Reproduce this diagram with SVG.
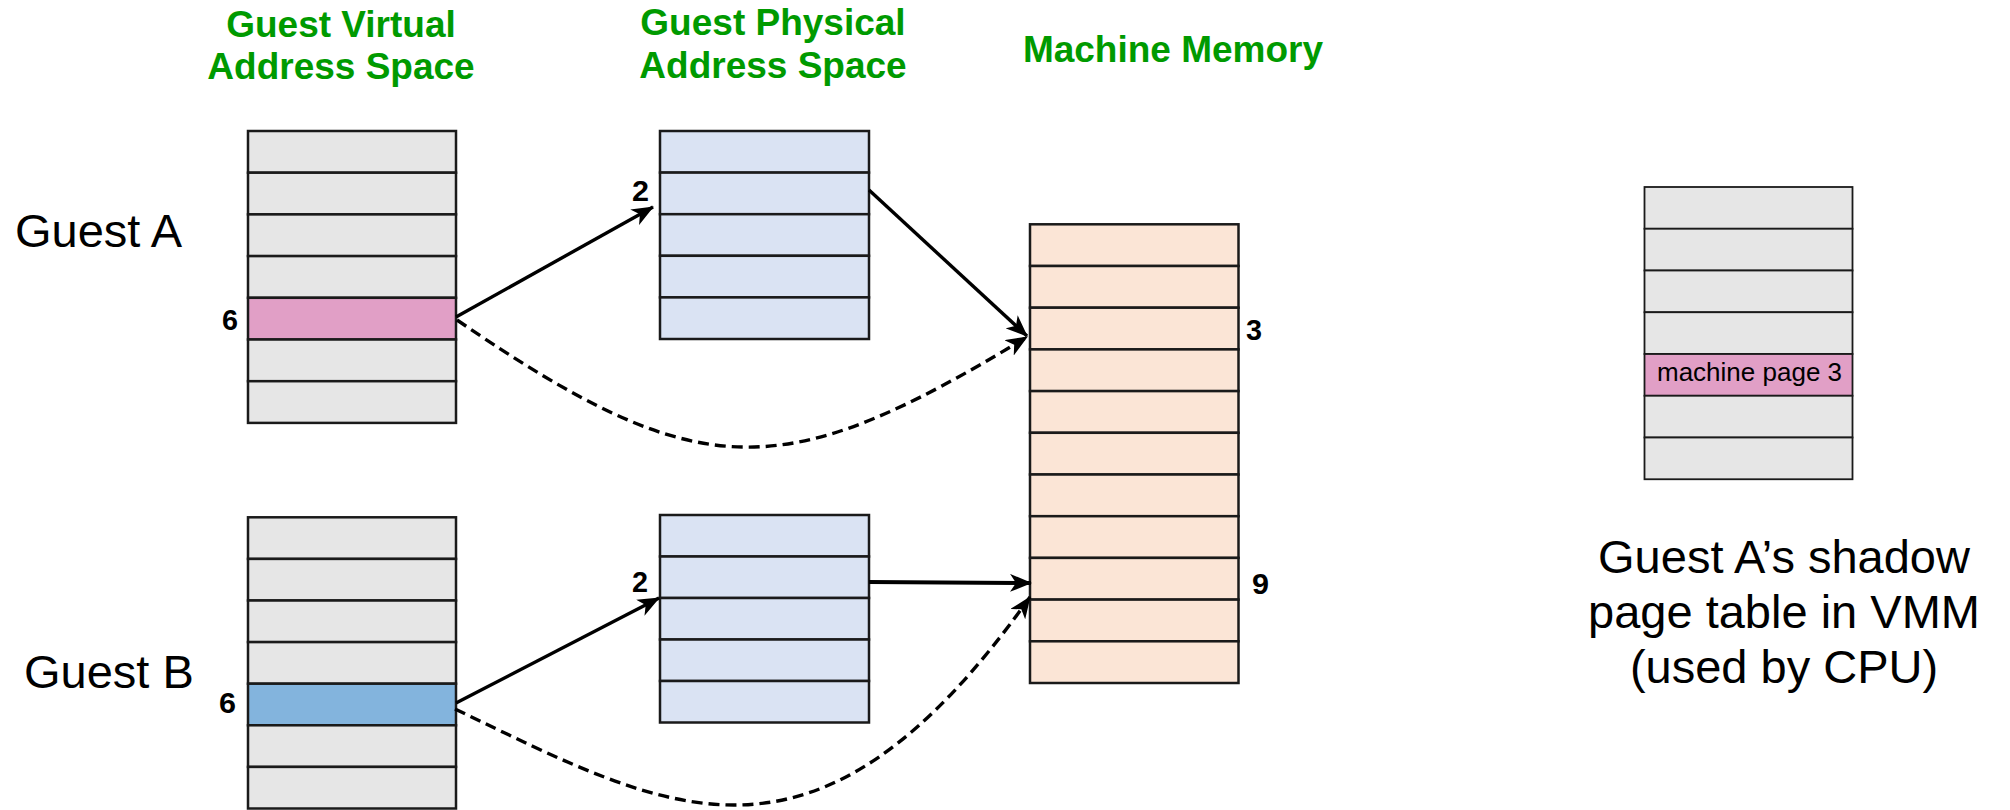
<svg xmlns="http://www.w3.org/2000/svg" width="2010" height="810" viewBox="0 0 2010 810">
  <style>
    .title { font-family: "Liberation Sans", Arial, sans-serif; font-weight: bold; font-size: 37px; fill: #009a00; text-anchor: middle; }
    .guest { font-family: "Liberation Sans", Arial, sans-serif; font-size: 47px; fill: #000; }
    .num { font-family: "Liberation Sans", Arial, sans-serif; font-weight: bold; font-size: 30px; fill: #000; }
    .caption { font-family: "Liberation Sans", Arial, sans-serif; font-size: 47px; fill: #000; text-anchor: middle; }
    .entry { font-family: "Liberation Sans", Arial, sans-serif; font-size: 26px; fill: #000; }
    .cell { stroke: #1a1a1a; stroke-width: 2.5; }
    .thin { stroke: #1a1a1a; stroke-width: 1.8; }
    .gray { fill: #e6e6e6; }
    .pink { fill: #e19fc6; }
    .blue { fill: #83b4dd; }
    .phys { fill: #dae3f3; }
    .mach { fill: #fbe5d6; }
    .edge { fill: none; stroke: #000; stroke-width: 3.4; }
    .dash { stroke-dasharray: 11 6; }
  </style>
  <defs>
    <marker id="arrow" viewBox="0 0 22 18" refX="21" refY="9" markerWidth="22" markerHeight="18" markerUnits="userSpaceOnUse" orient="auto">
      <path d="M0,0 L22,9 L0,18 L6,9 Z" fill="#000"/>
    </marker>
  </defs>

  <rect width="2010" height="810" fill="#fff"/>

  <!-- column headings -->
  <text class="title" x="341" y="37">Guest Virtual</text>
  <text class="title" x="341" y="79">Address Space</text>
  <text class="title" x="773" y="35">Guest Physical</text>
  <text class="title" x="773" y="78">Address Space</text>
  <text class="title" x="1173" y="62">Machine Memory</text>

  <!-- guest labels -->
  <text class="guest" x="15" y="247">Guest A</text>
  <text class="guest" x="24" y="688">Guest B</text>

  <!-- Guest A virtual address space: 7 pages, page 6 highlighted -->
  <g id="guestA-virtual">
    <rect class="cell gray" x="248" y="131" width="208" height="41.7"/>
    <rect class="cell gray" x="248" y="172.7" width="208" height="41.7"/>
    <rect class="cell gray" x="248" y="214.4" width="208" height="41.7"/>
    <rect class="cell gray" x="248" y="256.1" width="208" height="41.7"/>
    <rect class="cell pink" x="248" y="297.8" width="208" height="41.7"/>
    <rect class="cell gray" x="248" y="339.5" width="208" height="41.7"/>
    <rect class="cell gray" x="248" y="381.2" width="208" height="41.7"/>
    <text class="num" x="222" y="330" textLength="16" lengthAdjust="spacingAndGlyphs">6</text>
  </g>

  <!-- Guest A physical address space: 5 pages -->
  <g id="guestA-physical">
    <rect class="cell phys" x="660" y="131" width="209" height="41.6"/>
    <rect class="cell phys" x="660" y="172.6" width="209" height="41.6"/>
    <rect class="cell phys" x="660" y="214.2" width="209" height="41.6"/>
    <rect class="cell phys" x="660" y="255.8" width="209" height="41.6"/>
    <rect class="cell phys" x="660" y="297.4" width="209" height="41.6"/>
    <text class="num" x="632" y="201" textLength="17" lengthAdjust="spacingAndGlyphs">2</text>
  </g>

  <!-- Guest B virtual address space -->
  <g id="guestB-virtual">
    <rect class="cell gray" x="248" y="517.3" width="208" height="41.6"/>
    <rect class="cell gray" x="248" y="558.9" width="208" height="41.6"/>
    <rect class="cell gray" x="248" y="600.5" width="208" height="41.6"/>
    <rect class="cell gray" x="248" y="642.1" width="208" height="41.6"/>
    <rect class="cell blue" x="248" y="683.7" width="208" height="41.6"/>
    <rect class="cell gray" x="248" y="725.3" width="208" height="41.6"/>
    <rect class="cell gray" x="248" y="766.9" width="208" height="41.6"/>
    <text class="num" x="219" y="713" textLength="17" lengthAdjust="spacingAndGlyphs">6</text>
  </g>

  <!-- Guest B physical address space -->
  <g id="guestB-physical">
    <rect class="cell phys" x="660" y="515" width="209" height="41.5"/>
    <rect class="cell phys" x="660" y="556.5" width="209" height="41.5"/>
    <rect class="cell phys" x="660" y="598" width="209" height="41.5"/>
    <rect class="cell phys" x="660" y="639.5" width="209" height="41.5"/>
    <rect class="cell phys" x="660" y="681" width="209" height="41.5"/>
    <text class="num" x="632" y="592" textLength="16" lengthAdjust="spacingAndGlyphs">2</text>
  </g>

  <!-- Machine memory: 11 frames -->
  <g id="machine-memory">
    <rect class="cell mach" x="1030" y="224.3" width="208.5" height="41.7"/>
    <rect class="cell mach" x="1030" y="266" width="208.5" height="41.7"/>
    <rect class="cell mach" x="1030" y="307.7" width="208.5" height="41.7"/>
    <rect class="cell mach" x="1030" y="349.4" width="208.5" height="41.7"/>
    <rect class="cell mach" x="1030" y="391.1" width="208.5" height="41.7"/>
    <rect class="cell mach" x="1030" y="432.8" width="208.5" height="41.7"/>
    <rect class="cell mach" x="1030" y="474.5" width="208.5" height="41.7"/>
    <rect class="cell mach" x="1030" y="516.2" width="208.5" height="41.7"/>
    <rect class="cell mach" x="1030" y="557.9" width="208.5" height="41.7"/>
    <rect class="cell mach" x="1030" y="599.6" width="208.5" height="41.7"/>
    <rect class="cell mach" x="1030" y="641.3" width="208.5" height="41.7"/>
    <text class="num" x="1246" y="340" textLength="16" lengthAdjust="spacingAndGlyphs">3</text>
    <text class="num" x="1252" y="594" textLength="17" lengthAdjust="spacingAndGlyphs">9</text>
  </g>

  <!-- Shadow page table kept by the VMM -->
  <g id="shadow-table">
    <rect class="thin gray" x="1644.5" y="187" width="208" height="41.75"/>
    <rect class="thin gray" x="1644.5" y="228.75" width="208" height="41.75"/>
    <rect class="thin gray" x="1644.5" y="270.5" width="208" height="41.75"/>
    <rect class="thin gray" x="1644.5" y="312.25" width="208" height="41.75"/>
    <rect class="thin pink" x="1644.5" y="354" width="208" height="41.75"/>
    <rect class="thin gray" x="1644.5" y="395.75" width="208" height="41.75"/>
    <rect class="thin gray" x="1644.5" y="437.5" width="208" height="41.75"/>
    <text class="entry" x="1657" y="381">machine page 3</text>
  </g>

  <g id="shadow-caption">
    <text class="caption" x="1784" y="573">Guest A’s shadow</text>
    <text class="caption" x="1784" y="628">page table in VMM</text>
    <text class="caption" x="1784" y="683">(used by CPU)</text>
  </g>

  <!-- mappings -->
  <g id="connectors">
    <path class="edge" d="M456,317 L653,207" marker-end="url(#arrow)"/>
    <path class="edge" d="M869,190 L1027,336" marker-end="url(#arrow)"/>
    <path class="edge dash" d="M457,320 C700,486 780,487 1027,337" marker-end="url(#arrow)"/>
    <path class="edge" d="M456,703 L659,598" marker-end="url(#arrow)"/>
    <path class="edge" style="stroke-width:4" d="M869,582 L1031,583" marker-end="url(#arrow)"/>
    <path class="edge dash" d="M455,709 C668,811 815,900 1030,597" marker-end="url(#arrow)"/>
  </g>
</svg>
